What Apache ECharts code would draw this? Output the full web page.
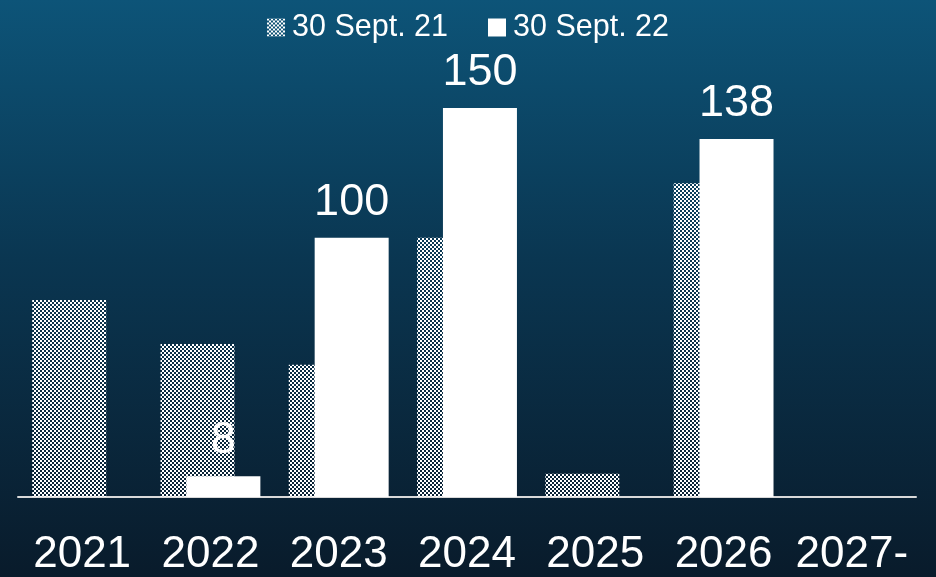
<!DOCTYPE html>
<html>
<head>
<meta charset="utf-8">
<script src="https://cdn.jsdelivr.net/npm/echarts@6/dist/echarts.min.js"></script>
<style>
html,body{margin:0;padding:0;background:#08263a;}
#chart{width:936px;height:577px;}
</style>
</head>
<body>
<div id="chart"></div>
<script>
var categories = ['2021', '2022', '2023', '2024', '2025', '2026', '2027-'];
var seriesNames = ['30 Sept. 21', '30 Sept. 22'];
var sept21 = [76, 59, 51, 100, 9, 121, null];
var sept22 = [null, 8, 100, 150, null, 138, null];

var pc = document.createElement('canvas');
pc.width = 4; pc.height = 4;
var ctx = pc.getContext('2d');
ctx.fillStyle = '#ffffff';
ctx.fillRect(0, 0, 2, 2);
ctx.fillRect(2, 2, 2, 2);
var checker = { image: pc, repeat: 'repeat' };

var chart = echarts.init(document.getElementById('chart'), null, { renderer: 'canvas' });
var FONT = '"Liberation Sans", Arial, sans-serif';
chart.setOption({
  animation: false,
  backgroundColor: {
    type: 'linear', x: 0, y: 0, x2: 0, y2: 1,
    colorStops: [
      { offset: 0, color: '#0d5478' },
      { offset: 0.45, color: '#0a3651' },
      { offset: 1, color: '#091b2b' }
    ]
  },
  legend: {
    top: 7,
    left: 'center',
    itemWidth: 18,
    itemHeight: 18,
    itemGap: 40,
    icon: 'rect',
    textStyle: { color: '#ffffff', fontSize: 30.5, fontFamily: FONT, padding: [0, 0, 0, 2] },
    data: seriesNames
  },
  grid: { left: 18, right: 20, top: 108, bottom: 79 },
  xAxis: {
    type: 'category',
    data: categories,
    axisLine: { show: true, lineStyle: { color: '#d9d9d9', width: 2 } },
    axisTick: { show: false },
    axisLabel: { color: '#ffffff', fontSize: 44, fontFamily: FONT, margin: 36, interval: 0 }
  },
  yAxis: {
    type: 'value', min: 0, max: 150,
    show: false,
    splitLine: { show: false }
  },
  series: [
    {
      name: seriesNames[0],
      type: 'bar',
      data: sept21,
      barWidth: 74,
      barGap: '-65%',
      itemStyle: { color: checker }
    },
    {
      name: seriesNames[1],
      type: 'bar',
      data: sept22,
      barWidth: 74,
      itemStyle: { color: '#ffffff' },
      label: {
        show: true, position: 'top', distance: 13,
        color: '#ffffff', fontSize: 45, fontFamily: FONT
      }
    }
  ]
});
</script>
</body>
</html>
